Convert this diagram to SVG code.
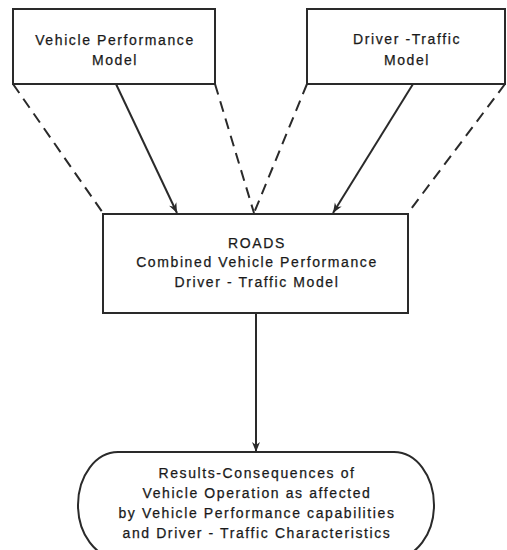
<svg xmlns="http://www.w3.org/2000/svg" width="507" height="550" viewBox="0 0 507 550">
  <style>
    .box { fill: #ffffff; stroke: #2a2a2a; stroke-width: 2; }
    .lbl { font-family: "Liberation Sans", Arial, sans-serif; font-size: 14px; fill: #1a1a1a; text-anchor: middle; letter-spacing: 1.6px; stroke: #1a1a1a; stroke-width: 0.25px; }
    .solid { stroke: #2a2a2a; stroke-width: 2; fill: none; }
    .dash { stroke: #2a2a2a; stroke-width: 2; fill: none; stroke-dasharray: 11 7; }
  </style>
  <defs>
    <marker id="arrow" viewBox="0 0 10 10" refX="10" refY="5" markerWidth="10" markerHeight="10" markerUnits="userSpaceOnUse" orient="auto">
      <path d="M0,1 L10,5 L0,9 L3,5 Z" fill="#2a2a2a"/>
    </marker>
  </defs>
  <rect width="507" height="550" fill="#ffffff"/>

  <g id="connectors">
    <line class="dash" x1="13" y1="84" x2="103" y2="213"/>
    <line class="solid" x1="116" y1="84" x2="177" y2="213" marker-end="url(#arrow)"/>
    <line class="dash" x1="215" y1="84" x2="254" y2="213"/>
    <line class="dash" x1="307" y1="84" x2="254" y2="213"/>
    <line class="solid" x1="413" y1="84" x2="333" y2="213" marker-end="url(#arrow)"/>
    <line class="dash" x1="505" y1="84" x2="408" y2="213"/>
    <line class="solid" x1="256" y1="314" x2="256" y2="452" marker-end="url(#arrow)"/>
  </g>

  <g id="vehicle-performance-model">
    <rect class="box" x="13" y="9" width="202" height="75"/>
    <text class="lbl" x="115" y="45">Vehicle Performance</text>
    <text class="lbl" x="115" y="65">Model</text>
  </g>

  <g id="driver-traffic-model">
    <rect class="box" x="307" y="9" width="198" height="75"/>
    <text class="lbl" x="407" y="44">Driver -Traffic</text>
    <text class="lbl" x="407" y="65">Model</text>
  </g>

  <g id="roads-model">
    <rect class="box" x="103" y="214" width="305" height="99"/>
    <text class="lbl" x="257" y="248">ROADS</text>
    <text class="lbl" x="257" y="267">Combined Vehicle Performance</text>
    <text class="lbl" x="257" y="287">Driver - Traffic Model</text>
  </g>

  <g id="results">
    <rect class="box" x="78" y="452" width="356" height="106" rx="40" ry="53"/>
    <text class="lbl" x="257" y="478">Results-Consequences  of</text>
    <text class="lbl" x="257" y="498">Vehicle Operation as affected</text>
    <text class="lbl" x="257" y="518">by Vehicle Performance capabilities</text>
    <text class="lbl" x="257" y="538">and Driver - Traffic  Characteristics</text>
  </g>
</svg>
